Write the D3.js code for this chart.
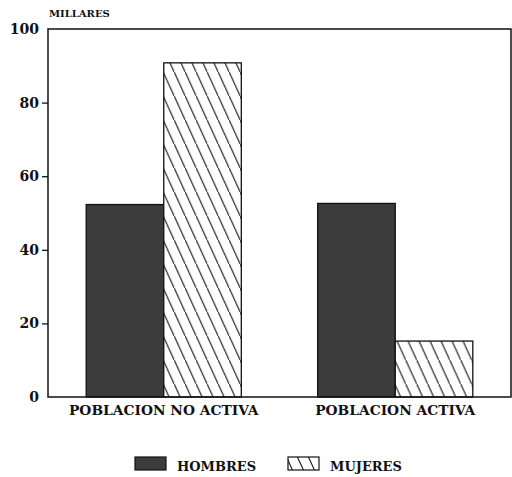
<!DOCTYPE html>
<html><head><meta charset="utf-8">
<script src="https://cdn.jsdelivr.net/npm/d3@7"></script>
<style>body{margin:0;background:#fff}svg{display:block}</style>
</head><body>
<svg id="c" width="512" height="477"></svg>
<script>
const categories = ["POBLACION NO ACTIVA", "POBLACION ACTIVA"];
const seriesNames = ["HOMBRES", "MUJERES"];
const hombres = [52.3, 52.6];
const mujeres = [90.8, 15.2];
const yTicks = [0, 20, 40, 60, 80, 100];
const yTitle = "MILLARES";

const svg = d3.select("#c");
const m = {l:48, r:511, t:29, b:397};
const font = "DejaVu Serif";

const defs = svg.append("defs");
const pat = defs.append("pattern").attr("id","hatch").attr("patternUnits","userSpaceOnUse")
  .attr("width",11).attr("height",24);
pat.append("rect").attr("width",11).attr("height",24).attr("fill","#fff");
pat.append("line").attr("x1",-1).attr("y1",-2.2).attr("x2",12).attr("y2",26.2).attr("stroke","#111").attr("stroke-width",1.1);

const x0 = d3.scaleBand().domain(categories).range([m.l, m.r]).paddingInner(0.33).paddingOuter(0.165);
const x1 = d3.scaleBand().domain(seriesNames).range([0, x0.bandwidth()]);
const y = d3.scaleLinear().domain([0,100]).range([m.b, m.t]);

const data = categories.map((c,i)=>({cat:c, vals:[{s:"HOMBRES", v:hombres[i]},{s:"MUJERES", v:mujeres[i]}]}));
const fills = {HOMBRES:"#3c3c3c", MUJERES:"url(#hatch)"};

const g = svg.append("g");
g.selectAll("g.grp").data(data).join("g").attr("transform", d=>`translate(${x0(d.cat)},0)`)
 .selectAll("rect").data(d=>d.vals).join("rect")
  .attr("x", d=>x1(d.s)).attr("width", x1.bandwidth())
  .attr("y", d=>y(d.v)).attr("height", d=>y(0)-y(d.v))
  .attr("fill", d=>fills[d.s]).attr("stroke","#111").attr("stroke-width",1.3);

// frame
svg.append("rect").attr("x",m.l).attr("y",m.t).attr("width",m.r-m.l).attr("height",m.b-m.t)
  .attr("fill","none").attr("stroke","#111").attr("stroke-width",1.5);

// y axis
const ya = d3.axisLeft(y).tickValues(yTicks).tickSize(6).tickPadding(3).tickFormat(d3.format("d"));
const yg = svg.append("g").attr("transform",`translate(${m.l},0)`).call(ya);
yg.select(".domain").remove();
yg.selectAll("line").attr("stroke","#111").attr("stroke-width",1.3);
yg.selectAll("text").attr("font-family",font).attr("font-weight","bold").attr("font-size",14).attr("fill","#111");
yg.selectAll(".tick").filter(d=>d===0||d===100).select("line").remove();

// x labels
const xa = d3.axisBottom(x0).tickSize(0).tickPadding(8);
const xg = svg.append("g").attr("transform",`translate(0,${m.b})`).call(xa);
xg.select(".domain").remove();
xg.selectAll("text").attr("font-family",font).attr("font-weight","bold").attr("font-size",13.8).attr("fill","#111");

svg.append("text").attr("x",49).attr("y",17).text(yTitle)
  .attr("font-family",font).attr("font-weight","bold").attr("font-size",10).attr("fill","#111");

// legend
const legX = [135, 288], txtX = [177, 330];
const leg = svg.append("g");
seriesNames.forEach((s,i)=>{
  leg.append("rect").attr("x",legX[i]).attr("y",457).attr("width",31).attr("height",13)
    .attr("fill",fills[s]).attr("stroke","#111").attr("stroke-width",1.2);
  leg.append("text").attr("x",txtX[i]).attr("y",471).text(s)
    .attr("font-family",font).attr("font-weight","bold").attr("font-size",13).attr("fill","#111");
});
</script>
</body></html>
